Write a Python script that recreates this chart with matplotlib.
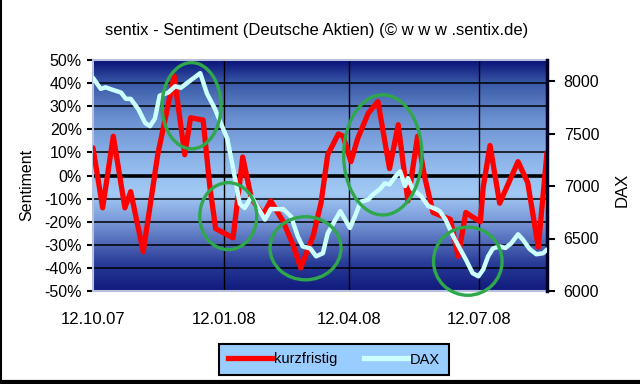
import numpy as np
import matplotlib
matplotlib.use("Agg")
import matplotlib.pyplot as plt
from matplotlib.colors import LinearSegmentedColormap
from matplotlib.patches import Ellipse
from matplotlib.lines import Line2D

plt.rcParams['font.family'] = ['Liberation Sans', 'DejaVu Sans']
plt.rcParams['axes.unicode_minus'] = False

# x = weeks since 12.10.07
sent_x = [0.0, 1.0, 2.1, 3.3, 3.9, 5.2, 6.7, 8.4, 9.5, 10.1, 11.4, 12.1, 12.7, 14.5,
          15.5, 16.4, 17.6, 18.4, 19.7, 20.7, 21.5, 22.8, 23.6, 24.3, 25.4, 25.9,
          26.7, 27.4, 28.5, 29.5, 30.7, 31.6, 32.6, 33.6, 34.3, 35.2, 37.0, 37.8,
          38.6, 39.3, 40.1, 40.4, 41.1, 42.1, 44.0, 45.0, 46.1, 47.0]
sent_y = [12, -14, 17, -14, -7, -33, 9, 43, 9, 25, 24, -5, -23, -27,
          8, -10, -17, -11, -20, -30, -40, -26, -12, 9, 18, 17,
          6, 16, 27, 32, 3, 22, -11, 17, 0, -16, -19, -35,
          -16, -18, -20, -5, 13, -12, 6, -3, -31, 10]

dax_x = [0.0, 0.8, 1.3, 1.9, 2.9, 3.4, 3.9, 4.7, 5.4, 5.9, 6.4, 6.9, 7.8, 8.5,
         9.1, 9.8, 10.6, 11.1, 11.8, 12.6, 13.9, 14.5, 15.2, 15.7, 16.4, 17.1,
         17.8, 18.4, 19.7, 20.5, 21.2, 21.7, 22.5, 23.1, 23.8, 24.3, 25.1, 25.6,
         26.1, 26.6, 27.2, 27.7, 28.5, 29.0, 29.7, 30.2, 30.7, 31.3, 31.8, 32.3,
         32.6, 33.1, 34.0, 34.7, 35.5, 35.9, 36.5, 37.3, 38.0, 38.6, 39.3, 39.9,
         40.4, 40.9, 41.4, 42.1, 42.7, 43.3, 44.0, 44.5, 45.2, 45.9, 46.6, 47.0]
dax_y = [8030, 7925, 7940, 7920, 7890, 7830, 7830, 7730, 7600, 7570, 7640, 7860, 7890, 7950,
         7935, 7985, 8040, 8075, 7880, 7740, 7450, 7170, 6830, 6790, 6900, 6790,
         6680, 6780, 6780, 6710, 6520, 6425, 6405, 6330, 6360, 6550, 6680, 6760,
         6680, 6600, 6730, 6850, 6870, 6920, 6970, 7025, 7015, 7090, 7140, 7000,
         7075, 6970, 6900, 6810, 6780, 6760, 6680, 6520, 6400, 6300, 6170, 6140,
         6205, 6330, 6405, 6425, 6410, 6455, 6540, 6490, 6400, 6350, 6360, 6395]

tick_pos = [0, 13.6, 26.5, 40.0]
tick_labels = ['12.10.07', '12.01.08', '12.04.08', '12.07.08']

# green ellipses: (x, sentiment, width, height)
circles = [(10.2, 30.2, 6.1, 37.3), (14.0, -17.6, 5.9, 29.0), (22.0, -31.5, 7.35, 27.3),
           (30.0, 8.9, 8.1, 52.0), (38.8, -37.1, 7.1, 29.5)]

fig = plt.figure(figsize=(6.4, 3.84), dpi=100)
ax = fig.add_axes([93/640, 1-291/384, 454/640, 231/384])
ax.set_xlim(0, 47)
ax.set_ylim(-50, 50)

# gradient background
cmap = LinearSegmentedColormap.from_list('bg', [
    (0, '#101a7c'), (0.12, '#2a3c98'), (0.3, '#7898d8'), (0.42, '#a2caf4'),
    (0.55, '#90b8ec'), (0.75, '#6a8fd0'), (0.9, '#3a5aa8'), (1, '#0a1278')])
grad = np.linspace(0, 1, 256).reshape(-1, 1)
ax.imshow(grad, cmap=cmap, aspect='auto', origin='lower',
          extent=[0, 47, -50, 50], zorder=0)

for v in range(-40, 50, 10):
    ax.axhline(v, color='black', lw=1.1 if v != 0 else 2.6, zorder=1)
for p in tick_pos[1:]:
    ax.axvline(p, color='black', lw=1, zorder=1)

ax.plot(sent_x, sent_y, color='#ff0000', lw=3.8, solid_joinstyle='round',
        solid_capstyle='round', zorder=3)

ax.set_yticks(range(-50, 51, 10))
ax.set_yticklabels(['%d%%' % v for v in range(-50, 51, 10)])
ax.set_xticks(tick_pos)
ax.set_xticklabels(tick_labels)
ax.tick_params(axis='y', direction='out', length=4, width=1.5, pad=4, labelsize=11.5)
ax.tick_params(axis='x', length=0, pad=15, labelsize=12)
for s in ['top', 'bottom', 'left']:
    ax.spines[s].set_color('#b8c0dc')
    ax.spines[s].set_linewidth(1.5)
ax.spines['right'].set_visible(False)

ax2 = ax.twinx()
ax2.set_ylim(6000, 8200)
ax2.plot(dax_x, dax_y, color='#ccffff', lw=3.2, solid_joinstyle='round',
         solid_capstyle='round', zorder=3)
ax2.set_yticks([6000, 6500, 7000, 7500, 8000])
ax2.tick_params(axis='y', direction='out', length=6, width=1.5, pad=6, labelsize=11.5)
ax2.spines['right'].set_color('#000020')
ax2.spines['right'].set_linewidth(2.5)
for s in ['top', 'bottom', 'left']:
    ax2.spines[s].set_visible(False)

for cx, cy, w, h in circles:
    e = Ellipse((cx, cy), w, h, transform=ax.transData, fill=False,
                edgecolor='#2ea84a', lw=2.4, zorder=5, clip_on=False)
    ax2.add_patch(e)

fig.text(0.495, 1-30/384, 'sentix - Sentiment (Deutsche Aktien) (\u00a9 w w w .sentix.de)',
         ha='center', va='center', fontsize=12)
fig.text(27/640, 1-185/384, 'Sentiment', rotation=90, ha='center', va='center', fontsize=11.5)
fig.text(622/640, 1-190/384, 'DAX', rotation=90, ha='center', va='center', fontsize=12)

handles = [Line2D([], [], color='#ff0000', lw=3.8),
           Line2D([], [], color='#ccffff', lw=3.8)]
leg = fig.legend(handles, ['kurzfristig', 'DAX'], loc='center',
                 bbox_to_anchor=(334/640, 1-359.5/384), ncol=2, fontsize=10.5,
                 handlelength=3, handletextpad=0.15, columnspacing=1.8,
                 fancybox=False, framealpha=1, borderpad=0.6)
leg.get_frame().set_facecolor('#99ccff')
leg.get_frame().set_edgecolor('black')
leg.get_frame().set_linewidth(1.5)

# outer frame: left and bottom edges
fig.add_artist(Line2D([0.5/640, 0.5/640], [0, 1], transform=fig.transFigure, color='black', lw=1.5))
fig.add_artist(Line2D([0, 1], [2/384, 2/384], transform=fig.transFigure, color='black', lw=3))

fig.savefig('out.png', dpi=100, facecolor='white')
